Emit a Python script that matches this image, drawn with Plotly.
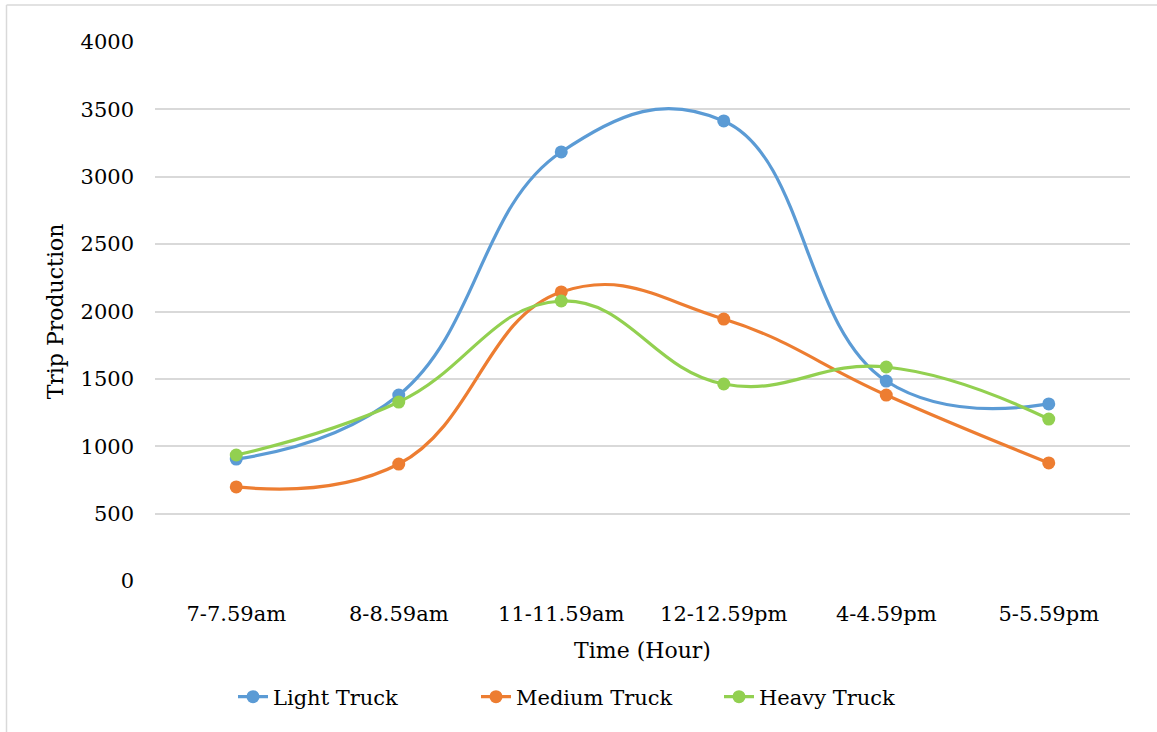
import plotly.graph_objects as go

categories = ["7-7.59am", "8-8.59am", "11-11.59am", "12-12.59pm", "4-4.59pm", "5-5.59pm"]
light_truck = [905, 1380, 3184, 3414, 1484, 1314]
medium_truck = [698, 868, 2145, 1944, 1380, 876]
heavy_truck = [935, 1328, 2078, 1462, 1588, 1202]

series = [
    ("Light Truck", light_truck, "#5B9BD5"),
    ("Medium Truck", medium_truck, "#ED7D31"),
    ("Heavy Truck", heavy_truck, "#92D050"),
]

FONT = "DejaVu Serif"

fig = go.Figure()
for name, vals, color in series:
    fig.add_trace(go.Scatter(
        x=categories, y=vals, name=name, mode="lines+markers",
        line=dict(color=color, width=3.2, shape="spline", smoothing=1.25),
        marker=dict(color=color, size=13),
    ))

W, H = 1157, 732
L, R, T, B = 155, 27, 42, 151
pw, ph = W - L - R, H - T - B

def px(x):
    return (x - L) / pw

def py(y):
    return (H - B - y) / ph

fig.update_layout(
    width=W, height=H,
    margin=dict(l=L, r=R, t=T, b=B),
    paper_bgcolor="white", plot_bgcolor="white",
    font=dict(family=FONT, size=21, color="#000000"),
    showlegend=True,
    legend=dict(orientation="h", x=px(233), xanchor="left", y=py(697), yanchor="middle",
                font=dict(family=FONT, size=21), itemwidth=30, traceorder="normal",
                entrywidth=198, entrywidthmode="pixels"),
    xaxis=dict(
        type="category", range=[-0.5, 5.5], showgrid=False, showline=False, zeroline=False,
        ticks="", tickfont=dict(family=FONT, size=21), ticklabelstandoff=18,
        title=dict(text="Time (Hour)", font=dict(family=FONT, size=22), standoff=17),
    ),
    yaxis=dict(
        range=[0, 4000], dtick=500, showgrid=True, gridcolor="#D9D9D9", gridwidth=1.5,
        zeroline=False, showline=False, ticks="", tickfont=dict(family=FONT, size=21),
        ticklabelstandoff=20,
        title=dict(text="Trip Production", font=dict(family=FONT, size=22), standoff=10),
    ),
    shapes=[
        dict(type="line", xref="paper", yref="paper", x0=px(6.5), x1=px(6.5), y0=py(5), y1=py(740),
             line=dict(color="#D9D9D9", width=1.5)),
        dict(type="line", xref="paper", yref="paper", x0=px(6.5), x1=px(1160), y0=py(5), y1=py(5),
             line=dict(color="#D9D9D9", width=1.5)),
    ],
)

fig.write_html("out.html")
